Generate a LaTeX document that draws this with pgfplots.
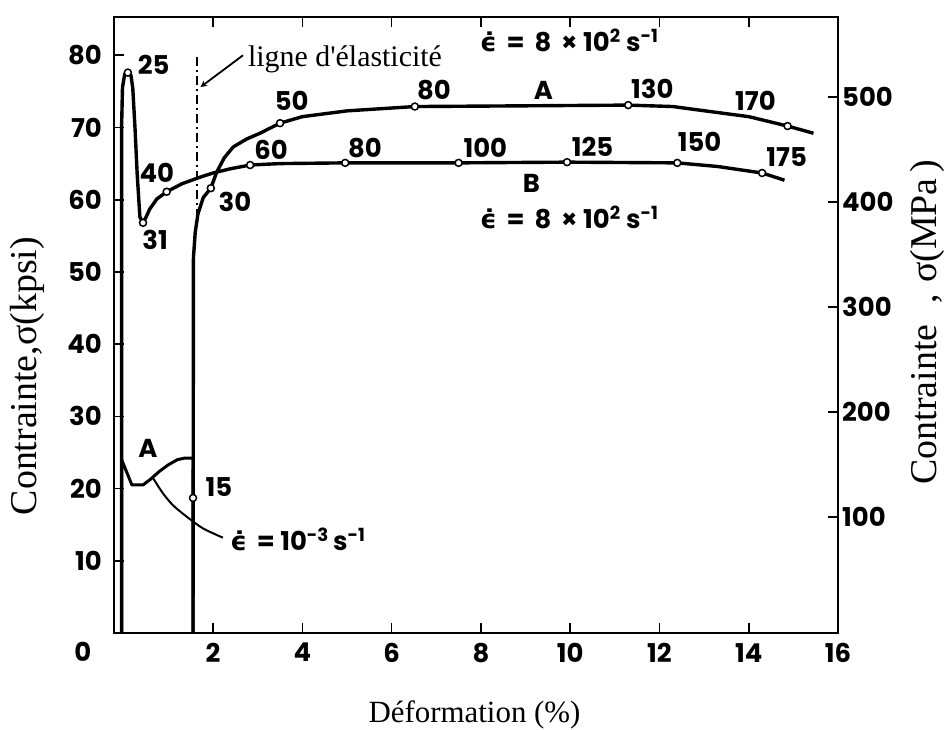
\documentclass[border=0pt]{standalone}
\usepackage{fontspec}
\setmainfont{Liberation Serif}
\newfontfamily\lett{Poppins}
\newfontfamily\dej{DejaVu Sans}
\usepackage{pgfplots}
\pgfplotsset{compat=1.18}
\newcommand\numf{\lett\bfseries\fontsize{26}{26}\selectfont}
\newcommand\edot{{\dej ϵ̇}}
\begin{document}
\begin{tikzpicture}
\useasboundingbox (-114bp,-97bp) rectangle (833bp,633bp);
\begin{axis}[
  at={(0,0)}, anchor=south west,
  scale only axis, width=724bp, height=616bp,
  xmin=-0.22, xmax=16, ymin=0, ymax=85.3,
  xtick={2,4,...,16}, ytick={10,20,...,80},
  ytick pos=left,
  tick align=inside, major tick length=10bp,
  axis line style={line width=2bp},
  every tick/.style={black, line width=1.6bp},
  tick label style={font=\numf, inner sep=0pt},
  xticklabel style={yshift=-10bp},
  yticklabel style={xshift=-12bp},
  /pgf/number format/assume math mode=true,
  xlabel={Déformation (\%)},
  xlabel style={font=\fontsize{31}{31}\selectfont, at={(rel axis cs:0.498,-0.146)}, anchor=base},
  ylabel={Contrainte,σ(kpsi)},
  ylabel style={font=\fontsize{38}{38}\selectfont, at={(rel axis cs:-0.1064,0.417)}, anchor=base},
  clip=false,
]
% curve B (high rate, first loading)
\addplot[black, line width=3.4bp, line join=round] coordinates {
(-0.05,0) (-0.05,70) (-0.03,75.5) (0.02,77.4) (0.09,77.6) (0.16,77.2) (0.2,75.5)
(0.25,70) (0.3,63.5) (0.36,57.6) (0.43,56.8) (0.5,57.6) (0.58,58.7) (0.74,60.1)
(0.96,61.1) (1.3,62.2) (1.7,63.1) (2.0,63.7) (2.4,64.3) (2.83,64.8) (3.5,65.0)
(4.96,65.1) (7.5,65.1) (9.93,65.2) (12.4,65.1) (13.3,64.6) (14.3,63.7) (14.8,62.7)};
% curve A (high rate, after low-rate prestrain)
\addplot[black, line width=3.4bp, line join=round] coordinates {
(1.55,0) (1.56,52) (1.6,55.5) (1.66,58) (1.78,60.3) (1.95,61.6) (2.08,63.8)
(2.25,65.8) (2.45,67.3) (2.75,68.4) (3.05,69.2) (3.5,70.6) (4.0,71.5) (5.0,72.3)
(6.52,72.9) (9.0,73.0) (11.3,73.1) (12.3,72.9) (12.9,72.4) (14.0,71.5) (14.87,70.2)
(15.45,69.2)};
% low-rate curve
\addplot[black, line width=3bp, line join=round] coordinates {
(-0.05,0) (-0.05,24) (0.07,22.2) (0.18,20.5) (0.43,20.5) (0.6,21.3) (0.8,22.4)
(1.0,23.3) (1.2,24.0) (1.35,24.2) (1.55,24.2) (1.55,0)};
% leader line to the low-rate label
\addplot[black, line width=2bp, smooth] coordinates {
(0.65,21.5) (0.87,19.4) (1.1,17.7) (1.41,16.1) (1.77,14.5) (2.22,13.2)};
% elastic line (dash-dot)
\addplot[black, line width=1.6bp, dash pattern=on 9bp off 4bp on 2bp off 4bp] coordinates {(1.64,57.5) (1.64,80)};
% markers
\addplot[only marks, mark=*, mark size=3.5bp, mark options={fill=white, draw=black, line width=1.5bp}] coordinates {
(0.09,77.6) (0.43,56.8) (0.96,61.1) (2.83,64.8) (4.96,65.1) (7.5,65.1) (9.93,65.2)
(12.4,65.1) (14.3,63.7)
(1.95,61.6) (3.5,70.6) (6.52,72.9) (11.3,73.1) (14.87,70.2)
(1.55,18.7)};
% arrow to the elastic line
\draw[-stealth, line width=1.8bp] (axis cs:2.67,80.0) -- (axis cs:1.72,75.6);
% labels
\begin{scope}[every node/.style={font=\numf, inner sep=0pt}]
\node at (axis cs:0.67,78.7) {25};
\node at (axis cs:0.70,54.4) {31};
\node at (axis cs:0.74,63.7) {40};
\node at (axis cs:3.30,66.9) {60};
\node at (axis cs:2.49,59.7) {30};
\node at (axis cs:3.76,73.7) {50};
\node at (axis cs:6.95,75.2) {80};
\node at (axis cs:9.40,75.1) {A};
\node at (axis cs:11.84,75.3) {130};
\node at (axis cs:14.15,73.7) {170};
\node at (axis cs:5.40,67.2) {80};
\node at (axis cs:8.10,67.2) {100};
\node at (axis cs:10.50,67.3) {125};
\node at (axis cs:12.90,68.0) {150};
\node at (axis cs:14.85,65.9) {175};
\node at (axis cs:9.13,62.2) {B};
\node at (axis cs:0.54,25.6) {A};
\node at (axis cs:2.13,20.2) {15};
\node at (axis cs:-0.92,-2.63) {0};
\node[anchor=west] at (axis cs:7.98,82.1) {\edot\ \,=\ \,8\ \,×\ 10\textsuperscript{2}\ s\textsuperscript{-1}};
\node[anchor=west] at (axis cs:7.98,57.6) {\edot\ \,=\ \,8\ \,×\ 10\textsuperscript{2}\ s\textsuperscript{-1}};
\node[anchor=west] at (axis cs:2.38,12.9) {\edot\ \,=\ 10\textsuperscript{-3}\,s\textsuperscript{-1}};
\end{scope}
\node[anchor=base west, inner sep=0pt, font=\fontsize{30}{30}\selectfont] at (axis cs:2.78,78.4) {ligne d\textquotesingle élasticité};
\end{axis}
\begin{axis}[
  at={(0,0)}, anchor=south west,
  scale only axis, width=724bp, height=616bp,
  xmin=-0.22, xmax=16, ymin=-10.5, ymax=576.2,
  axis x line=none, axis y line*=right,
  ytick={100,200,...,500},
  tick align=inside, major tick length=10bp,
  axis line style={line width=2bp},
  every tick/.style={black, line width=1.6bp},
  tick label style={font=\numf, inner sep=0pt},
  yticklabel style={xshift=4bp},
  /pgf/number format/assume math mode=true,
  ylabel={Contrainte\hspace{0.55em},\hspace{0.3em}σ(MPa\,)},
  ylabel style={font=\fontsize{38}{38}\selectfont, at={(rel axis cs:1.1367,0.505)}, anchor=base, rotate=0},
]
\addplot[draw=none] coordinates {(0,0)};
\end{axis}
\end{tikzpicture}
\end{document}
